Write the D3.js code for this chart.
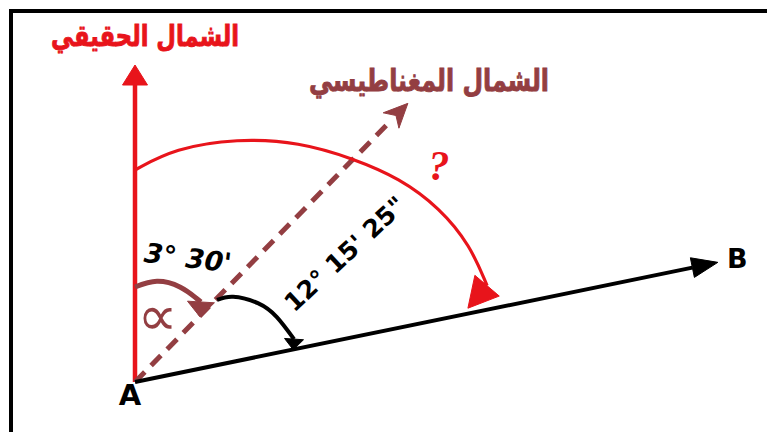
<!DOCTYPE html>
<html><head><meta charset="utf-8">
<script src="https://cdn.jsdelivr.net/npm/d3@7"></script>
<style>html,body{margin:0;padding:0;background:#fff;overflow:hidden}</style>
</head><body><svg id="c" width="767" height="432"></svg>
<script>
// ---- data (bearings in degrees clockwise from true north, radii in diagram units from A) ----
const directionNames = ["الشمال الحقيقي", "الشمال المغناطيسي", "B"];
const directionBearings = [0, 44.4, 78.4];
const directionLengths = [317, 390, 595];
const angleLabels = ["3° 30'", "12° 15' 25\"", "?"];
const angleSymbol = "∝";
const pointName = "A";
// arcs as [bearing, radius]
const trueToBArc = [[0,212],[9.7,237],[22.7,264],[34.5,291],[44.2,312],[52.4,334],[60.3,351],[67.8,362],[74.7,365]];
const trueToBTip = [77.5, 341];
const declinationArc = [[0,95],[12.3,103],[25.3,105],[36,103.8],[39.5,103.7]];
const declinationTip = [45, 92];
const magToBArc = [[45,116],[49,130],[57.3,146],[65.4,156],[74.9,164.7]];
const magToBTip = [78.5, 161.5];

// ---- scales ----
const sx = d3.scaleLinear().domain([-135, 632]).range([0, 767]);
const sy = d3.scaleLinear().domain([-50, 382]).range([432, 0]);
const rad = d3.scaleLinear().domain([0, 360]).range([0, 2*Math.PI]);
const P = (b, r) => [sx(r*Math.sin(rad(b))), sy(r*Math.cos(rad(b)))];

const RED = "#E8141B", BROWN = "#933E42", BLACK = "#000";
const svg = d3.select("#c");

// frame
svg.append("path").attr("d", "M11,432V11H767").attr("fill","none").attr("stroke","#000").attr("stroke-width",4);

function head(tip, base, hw, notch, color){
  const dx = tip[0]-base[0], dy = tip[1]-base[1], L = Math.hypot(dx,dy);
  const ux = dx/L, uy = dy/L, nx = -uy, ny = ux;
  const pts = [tip, [base[0]+nx*hw, base[1]+ny*hw]];
  if (notch) pts.push([base[0]+ux*notch, base[1]+uy*notch]);
  pts.push([base[0]-nx*hw, base[1]-ny*hw]);
  svg.append("path").attr("d", d3.line()(pts)+"Z").attr("fill", color).attr("stroke", color).attr("stroke-width",1).attr("stroke-linejoin","miter");
}

const lineStyles = [
  {color: RED, w: 4.5, dash: null, hl: 20, hw: 12.5, notch: 0},
  {color: BROWN, w: 5, dash: "14,9", hl: 24, hw: 11, notch: 7},
  {color: BLACK, w: 4, dash: null, hl: 26, hw: 10, notch: 0}
];
directionBearings.forEach((b, i) => {
  const st = lineStyles[i];
  const base = P(b, directionLengths[i]-st.hl);
  const tip = P(b, directionLengths[i]);
  svg.append("line").attr("x1", sx(0)).attr("y1", sy(0)).attr("x2", base[0]).attr("y2", base[1])
    .attr("stroke", st.color).attr("stroke-width", st.w).attr("stroke-dasharray", st.dash);
  head(tip, base, st.hw, st.notch, st.color);
});

function arc(samples, tip, color, w, hw, crv){
  const pts = samples.map(d => P(d[0], d[1]));
  svg.append("path").attr("d", d3.line().curve(crv)(pts)).attr("fill","none").attr("stroke", color).attr("stroke-width", w);
  head(P(tip[0], tip[1]), pts[pts.length-1], hw, 0, color);
}
arc(trueToBArc, trueToBTip, RED, 3.2, 16, d3.curveBasis);
arc(declinationArc, declinationTip, BROWN, 5, 13.5, d3.curveNatural);
arc(magToBArc, magToBTip, BLACK, 4, 9.5, d3.curveNatural);

// titles (fit to measured widths)
function fitText(txt, cx, baseline, width, color, size){
  const t = svg.append("text").attr("x", 0).attr("y", 0).attr("text-anchor","middle")
    .attr("font-family","DejaVu Sans").attr("font-weight","bold").attr("font-size", size)
    .attr("fill", color).attr("stroke", color).attr("stroke-width", 0.7)
    .attr("direction","rtl").text(txt);
  const w = t.node().getComputedTextLength();
  t.attr("font-size", size*width/w)
   .attr("transform", `translate(${cx},${baseline}) scale(1,1.3)`);
  return t;
}
fitText(directionNames[0], 145, 46, 188, RED, 24);
fitText(directionNames[1], 429, 91, 240, BROWN, 24);

svg.append("text").attr("x", 727).attr("y", 268).attr("font-family","DejaVu Sans").attr("font-weight","bold")
  .attr("font-size", 27).attr("fill", BLACK).text(directionNames[2]);
svg.append("text").attr("x", 130).attr("y", 405).attr("text-anchor","middle").attr("font-family","DejaVu Sans").attr("font-weight","bold")
  .attr("font-size", 29).attr("fill", BLACK).text(pointName);

// angle labels
const l0 = P(23.1, 135);
svg.append("text").attr("transform", `translate(${l0[0]},${l0[1]}) rotate(7)`).attr("text-anchor","middle").attr("dy","0.35em")
  .attr("font-family","DejaVu Sans").attr("font-weight","bold").attr("font-style","italic").attr("font-size", 27)
  .attr("fill", BLACK).text(angleLabels[0]);
const l1 = P(58.6, 246);
svg.append("text").attr("transform", `translate(${l1[0]},${l1[1]}) rotate(-43)`).attr("text-anchor","middle").attr("dy","0.35em")
  .attr("font-family","DejaVu Sans").attr("font-weight","bold").attr("font-size", 25)
  .attr("fill", BLACK).text(angleLabels[1]);
const l2 = P(54.5, 373.5);
svg.append("text").attr("x", l2[0]).attr("y", l2[1]).attr("text-anchor","middle").attr("dy","0.35em")
  .attr("font-family","Liberation Serif").attr("font-weight","bold").attr("font-style","italic").attr("font-size", 42)
  .attr("fill", RED).text(angleLabels[2]);
const l3 = P(18.7, 70);
svg.append("text").attr("x", l3[0]).attr("y", l3[1]).attr("text-anchor","middle").attr("dy","0.35em")
  .attr("font-family","DejaVu Sans").attr("font-size", 56)
  .attr("fill", BROWN).text(angleSymbol);
</script></body></html>
